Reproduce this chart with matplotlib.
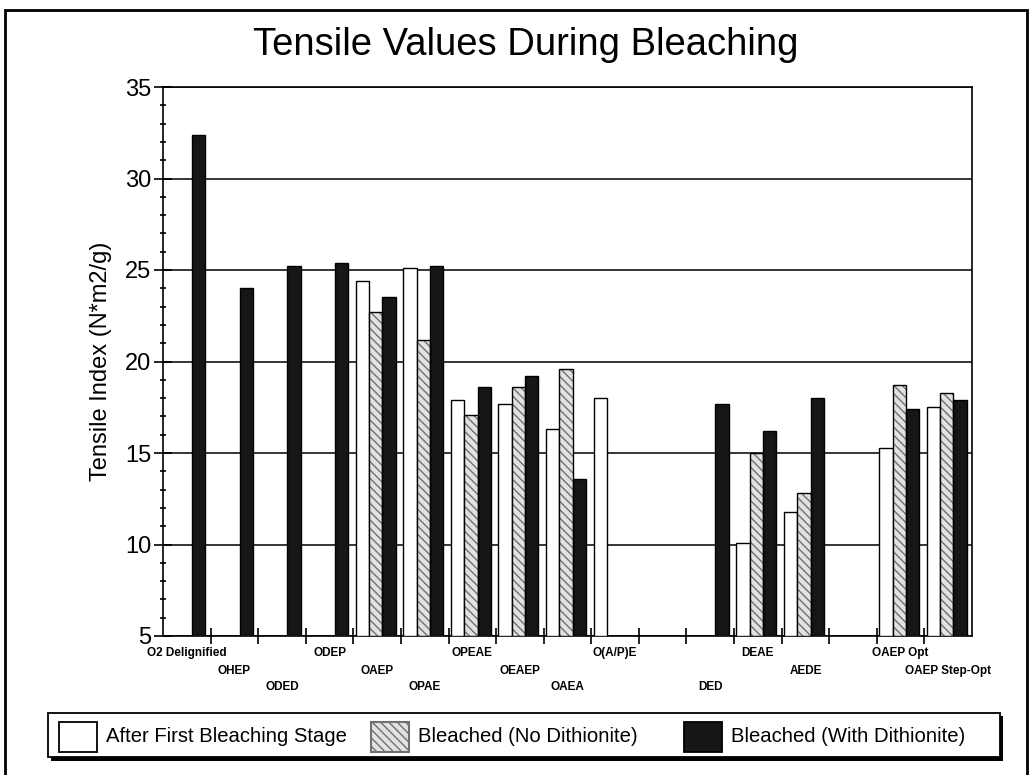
import numpy as np
import matplotlib.pyplot as plt
import matplotlib as mpl
from matplotlib.patches import Rectangle
from matplotlib.transforms import blended_transform_factory

mpl.rcParams['font.family'] = ['Liberation Sans', 'DejaVu Sans']
mpl.rcParams['hatch.linewidth'] = 1.0

# data (nan = no bar)
stages = ['O2 Delignified', 'OHEP', 'ODED', 'ODEP', 'OAEP', 'OPAE', 'OPEAE',
          'OEAEP', 'OAEA', 'O(A/P)E', '', 'DED', 'DEAE', 'AEDE', '',
          'OAEP Opt', 'OAEP Step-Opt']
nan = np.nan
after_first = [nan, nan, nan, nan, 24.4, 25.1, 17.9, 17.7, 16.3, 18.0, nan,
               nan, 10.1, 11.8, nan, 15.3, 17.5]
no_dithionite = [nan, nan, nan, nan, 22.7, 21.2, 17.1, 18.6, 19.6, nan, nan,
                 nan, 15.0, 12.8, nan, 18.7, 18.3]
with_dithionite = [32.4, 24.0, 25.2, 25.4, 23.5, 25.2, 18.6, 19.2, 13.6, nan, nan,
                   17.7, 16.2, 18.0, nan, 17.4, 17.9]
series_names = ['After First Bleaching Stage', 'Bleached (No Dithionite)',
                'Bleached (With Dithionite)']

W, H = 1032, 775
fig = plt.figure(figsize=(W / 100, H / 100), dpi=100)
ax = fig.add_axes([163 / W, 1 - 636 / H, 809 / W, 549 / H])

HATCH_FACE = '#e2e2e2'
HATCH_EDGE = '#707070'
DARK = '#161616'

x = np.arange(len(stages))
w = 0.28
base = 5
ax.bar(x - w - 0.03, np.array(after_first) - base, w, bottom=base,
       color='white', edgecolor='black', lw=1, zorder=3)
ax.bar(x - 0.03, np.array(no_dithionite) - base, w, bottom=base,
       color=HATCH_FACE, edgecolor=HATCH_EDGE, hatch='\\\\\\\\', lw=0, zorder=3)
ax.bar(x - 0.03, np.array(no_dithionite) - base, w, bottom=base,
       fill=False, edgecolor='black', lw=1, zorder=4)
ax.bar(x + w - 0.03, np.array(with_dithionite) - base, w, bottom=base,
       color=DARK, edgecolor='black', lw=1, zorder=3)

ax.set_ylim(5, 35)
ax.set_xlim(-0.5, len(stages) - 0.5)
ax.set_yticks(np.arange(5, 36, 5))
ax.set_yticks(np.arange(5, 36, 1), minor=True)
ax.grid(axis='y', which='major', color='black', lw=1.1, zorder=1)
ax.set_axisbelow(True)

ax.tick_params(axis='y', which='major', direction='inout', length=13, width=1.2,
               labelsize=17, pad=2)
ax.tick_params(axis='y', which='minor', direction='inout', length=4.5, width=1.2)

# category labels staggered over three rows, ticks at category boundaries
ax.set_xticks([])
ax.set_xticks(np.arange(len(stages) - 1) + 0.5, minor=True)
ax.tick_params(axis='x', which='minor', direction='inout', length=12, width=1.2)
trans = blended_transform_factory(ax.transData, ax.transAxes)
row_y = [-0.031, -0.063, -0.093]
for i, s in enumerate(stages):
    if s:
        ax.text(i, row_y[i % 3], s, transform=trans, ha='center', va='center',
                fontsize=8.5, fontweight='bold')

for sp in ax.spines.values():
    sp.set_linewidth(1.2)

ax.set_ylabel('Tensile Index (N*m2/g)', fontsize=17, va='center')
ax.yaxis.set_label_coords(-0.077, 0.5)
fig.text(526 / W, 1 - 45 / H, 'Tensile Values During Bleaching', fontsize=27.5,
         ha='center', va='center')


# legend drawn by hand so the keys sit where the scan has them (pixel layout)
def fbox(x0, y0, x1, y1, **kw):
    r = Rectangle((x0 / W, 1 - y1 / H), (x1 - x0) / W, (y1 - y0) / H,
                  transform=fig.transFigure, **kw)
    fig.patches.append(r)
    return r


fbox(51, 716, 1003, 761, facecolor='black', edgecolor='black', lw=0)
fbox(48, 713, 1000, 757, facecolor='white', edgecolor='black', lw=1.3)
key_x = [59, 371, 684]
key_style = [dict(facecolor='white', edgecolor='black', lw=1.3),
             dict(facecolor=HATCH_FACE, edgecolor=HATCH_EDGE, hatch='\\\\\\\\', lw=1.5),
             dict(facecolor=DARK, edgecolor='black', lw=1.3)]
for kx, st, name in zip(key_x, key_style, series_names):
    fbox(kx, 722, kx + 38, 752, **st)
    fig.text((kx + 47) / W, 1 - 737 / H, name, fontsize=14.6, ha='left', va='center')

# page frame of the scanned figure
fbox(5, 10, 1027, 790, fill=False, edgecolor='black', lw=2)

fig.savefig('out.png', dpi=100)
